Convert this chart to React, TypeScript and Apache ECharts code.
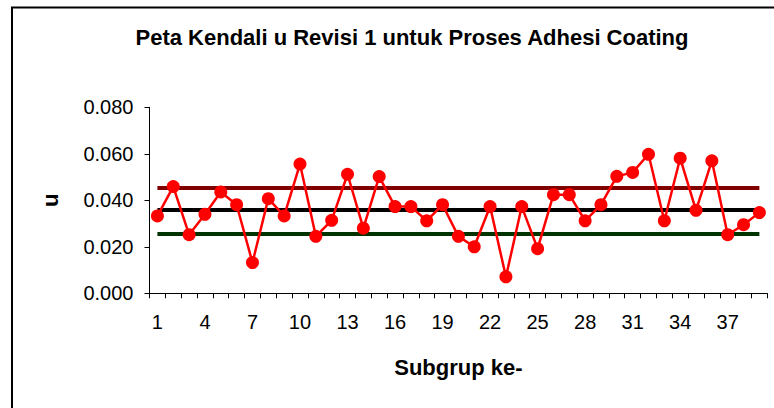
import React, { useEffect, useRef } from "react";
import * as echarts from "echarts";

const categories = [
  "1", "2", "3", "4", "5", "6", "7", "8", "9", "10",
  "11", "12", "13", "14", "15", "16", "17", "18", "19", "20",
  "21", "22", "23", "24", "25", "26", "27", "28", "29", "30",
  "31", "32", "33", "34", "35", "36", "37", "38", "39",
];

const uValues = [
  0.0333, 0.0459, 0.0252, 0.034, 0.0436, 0.0381, 0.0132, 0.0407, 0.0333, 0.0556,
  0.0245, 0.0314, 0.0512, 0.028, 0.0502, 0.0373, 0.0373, 0.0312, 0.0381, 0.0245,
  0.02, 0.0373, 0.0071, 0.0373, 0.0192, 0.0424, 0.0424, 0.0312, 0.0381, 0.0503,
  0.052, 0.0598, 0.0312, 0.0581, 0.0357, 0.057, 0.0252, 0.0295, 0.0347,
];

const UCL = 0.0454;
const CL = 0.0361;
const LCL = 0.0256;

const yTicks = [0, 0.02, 0.04, 0.06, 0.08];

const FONT = "'Liberation Sans', Arial, sans-serif";

export default function App() {
  const ref = useRef<HTMLDivElement>(null);

  useEffect(() => {
    document.body.style.margin = "0";
    if (!ref.current) return;
    const chart = echarts.init(ref.current, undefined, { renderer: "svg" });
    const first = categories[0];
    const last = categories[categories.length - 1];
    const limitLine = (value: number, color: string) => ({
      type: "line",
      data: [],
      silent: true,
      markLine: {
        silent: true,
        symbol: ["none", "none"],
        label: { show: false },
        lineStyle: { type: "solid", width: 4, color },
        emphasis: { disabled: true },
        data: [[{ coord: [first, value] }, { coord: [last, value] }]],
      },
    });
    chart.setOption({
      animation: false,
      backgroundColor: "#ffffff",
      textStyle: { fontFamily: FONT },
      title: {
        text: "Peta Kendali u Revisi 1 untuk Proses Adhesi Coating",
        left: 407,
        top: 21,
        textAlign: "center",
        textStyle: { fontFamily: FONT, fontSize: 22, fontWeight: "bold", color: "#000" },
      },
      graphic: [
        {
          type: "rect",
          shape: { x: 12, y: 7.5, width: 900, height: 600 },
          style: { fill: "none", stroke: "#000", lineWidth: 2 },
          silent: true,
          z: -1,
        },
      ],
      grid: { left: 149.5, right: 6.7, top: 107.3, bottom: 114.7 },
      xAxis: {
        type: "category",
        data: categories,
        boundaryGap: true,
        name: "Subgrup ke-",
        nameLocation: "middle",
        nameGap: 63,
        nameTextStyle: { fontFamily: FONT, fontSize: 22, fontWeight: "bold", color: "#000" },
        axisLine: { lineStyle: { color: "#000", width: 1 } },
        axisTick: { show: true, interval: 0, length: 5, lineStyle: { color: "#000" } },
        axisLabel: { interval: 2, margin: 19, fontFamily: FONT, fontSize: 20, color: "#000" },
        splitLine: { show: false },
      },
      yAxis: {
        type: "value",
        min: yTicks[0],
        max: yTicks[yTicks.length - 1],
        interval: 0.02,
        name: "u",
        nameLocation: "middle",
        nameGap: 88,
        nameRotate: 90,
        nameTextStyle: { fontFamily: FONT, fontSize: 22, fontWeight: "bold", color: "#000" },
        axisLine: { show: true, lineStyle: { color: "#000", width: 1 } },
        axisTick: { show: true, length: 5, lineStyle: { color: "#000" } },
        axisLabel: {
          margin: 16,
          fontFamily: FONT,
          fontSize: 20,
          color: "#000",
          formatter: (v: number) => v.toFixed(3),
        },
        splitLine: { show: false },
      },
      series: [
        limitLine(UCL, "#800000"),
        limitLine(CL, "#000000"),
        limitLine(LCL, "#003300"),
        {
          type: "line",
          name: "u",
          data: uValues,
          symbol: "circle",
          symbolSize: 13,
          showAllSymbol: true,
          lineStyle: { color: "#ff0000", width: 2.5 },
          itemStyle: { color: "#ff0000" },
          z: 5,
        },
      ],
    });
    return () => chart.dispose();
  }, []);

  return <div ref={ref} style={{ width: 774, height: 408 }} />;
}
